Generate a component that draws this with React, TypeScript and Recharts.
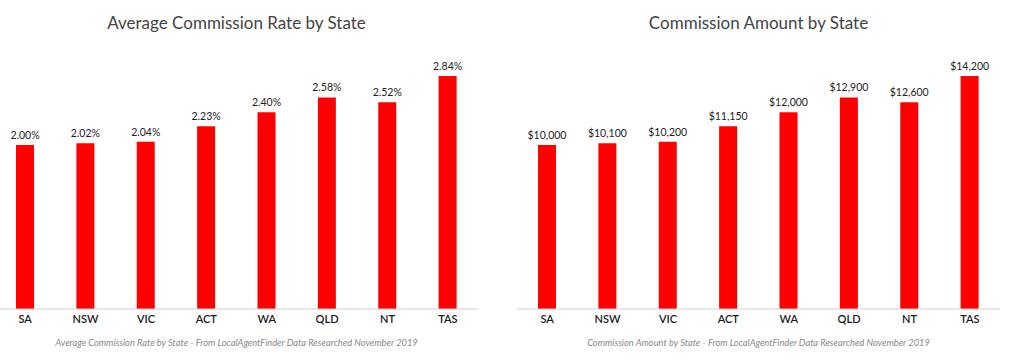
import { Bar, BarChart, LabelList, XAxis, YAxis } from 'recharts';

const states = ['SA', 'NSW', 'VIC', 'ACT', 'WA', 'QLD', 'NT', 'TAS'];
const rateValues = [2.0, 2.02, 2.04, 2.23, 2.4, 2.58, 2.52, 2.84];
const amountValues = [10000, 10100, 10200, 11150, 12000, 12900, 12600, 14200];

const rateData = states.map((state, i) => ({ state, value: rateValues[i] }));
const amountData = states.map((state, i) => ({ state, value: amountValues[i] }));

const font = 'Lato, "Open Sans", sans-serif';

interface PanelProps {
  left: number;
  title: string;
  note: string;
  data: { state: string; value: number }[];
  domainMax: number;
  format: (v: number) => string;
}

function Panel({ left, title, note, data, domainMax, format }: PanelProps) {
  const width = 483;
  return (
    <div style={{ position: 'absolute', left, top: 0, width, height: 360 }}>
      <BarChart
        width={width}
        height={360}
        data={data}
        margin={{ top: 63, right: 0, left: 0, bottom: 21 }}
      >
        <XAxis
          dataKey="state"
          axisLine={{ stroke: '#cfcfcf' }}
          tickLine={false}
          tickSize={4}
          interval={0}
          tick={{ fill: '#1a1a1a', fontSize: 11, fontFamily: font, fontWeight: 600 }}
        />
        <YAxis hide domain={[0, domainMax]} />
        <Bar dataKey="value" fill="#ff0000" barSize={18} isAnimationActive={false}>
          <LabelList
            dataKey="value"
            position="top"
            offset={6}
            formatter={(v: any) => format(Number(v))}
            style={{ fill: '#222', fontSize: 10.5, fontFamily: font }}
          />
        </Bar>
      </BarChart>
      <div
        style={{
          position: 'absolute',
          top: 12,
          left: 0,
          width,
          textAlign: 'center',
          fontFamily: font,
          fontSize: 17,
          color: '#444',
        }}
      >
        {title}
      </div>
      <div
        style={{
          position: 'absolute',
          top: 337,
          left: 0,
          width,
          textAlign: 'center',
          fontFamily: font,
          fontSize: 9.3,
          fontStyle: 'italic',
          color: '#888',
        }}
      >
        {note}
      </div>
    </div>
  );
}

export default function App() {
  return (
    <div
      style={{
        position: 'absolute',
        left: 0,
        top: 0,
        width: 1024,
        height: 360,
        background: '#fff',
        overflow: 'hidden',
      }}
    >
      <Panel
        left={-5}
        title="Average Commission Rate by State"
        note="Average Commission Rate by State - From LocalAgentFinder Data Researched November 2019"
        data={rateData}
        domainMax={3}
        format={(v) => `${v.toFixed(2)}%`}
      />
      <Panel
        left={517}
        title="Commission Amount by State"
        note="Commission Amount by State - From LocalAgentFinder Data Researched November 2019"
        data={amountData}
        domainMax={15000}
        format={(v) => `$${v.toLocaleString('en-US')}`}
      />
    </div>
  );
}
